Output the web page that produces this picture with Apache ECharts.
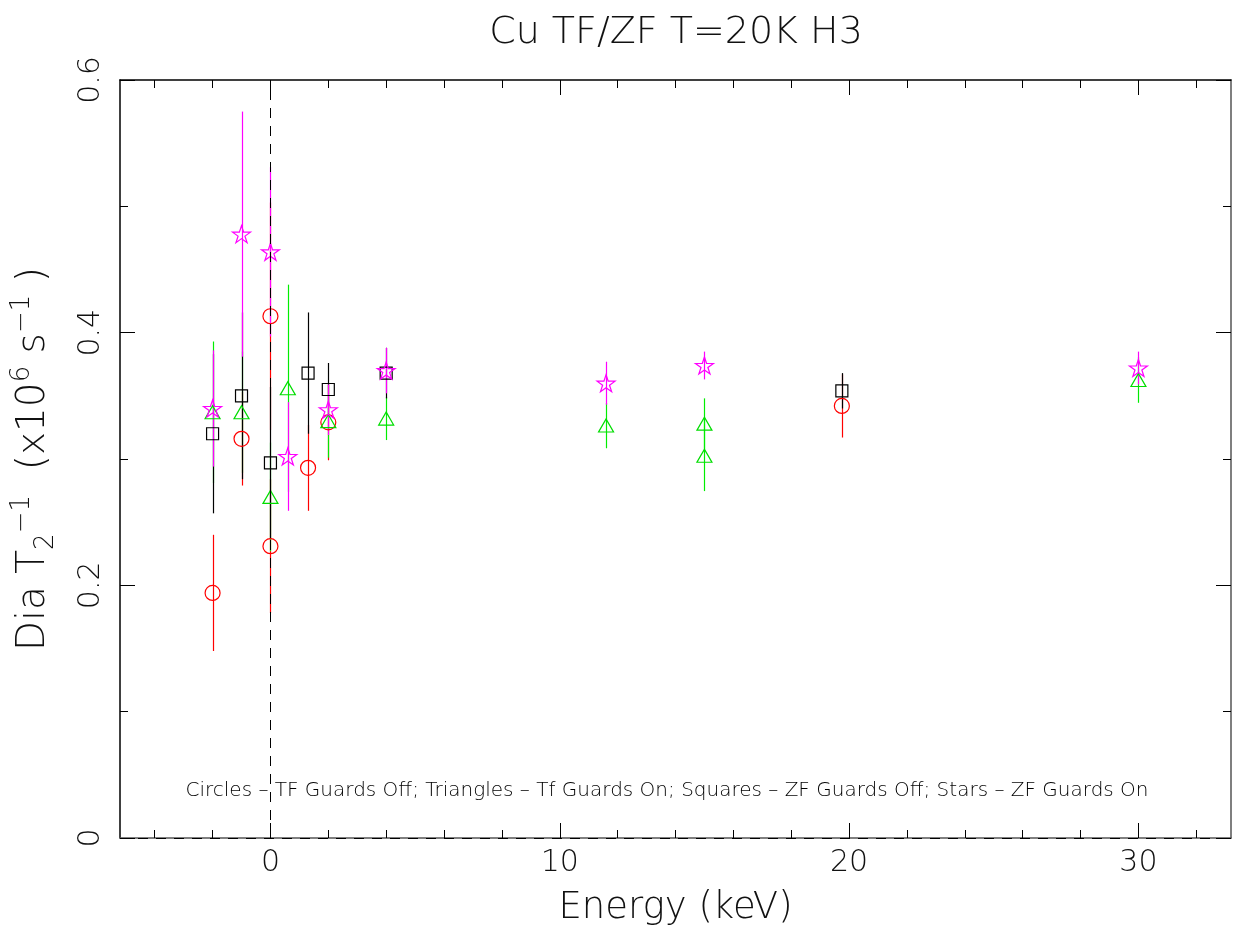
<!DOCTYPE html>
<html><head><meta charset="utf-8">
<script src="https://cdn.jsdelivr.net/npm/echarts@6/dist/echarts.min.js"></script>
<style>html,body{margin:0;padding:0;background:#fff}#c{width:1237px;height:929px}</style>
</head><body><div id="c"></div>
<script>
// ---- data ----
const circlesX   = [-2, -1, 0, 0, 1.3, 2, 19.75];
const circlesY   = [0.194, 0.316, 0.413, 0.231, 0.293, 0.329, 0.342];
const circlesErr = [0.046, 0.037, 0.09, 0.053, 0.034, 0.03, 0.025];

const trianglesX   = [-2, -1, 0, 0.6, 2, 4, 11.6, 15, 15, 30];
const trianglesY   = [0.337, 0.337, 0.270, 0.356, 0.330, 0.332, 0.3265, 0.328, 0.3026, 0.3625];
const trianglesErr = [0.056, 0.048, 0.043, 0.082, 0.029, 0.017, 0.018, 0.02, 0.028, 0.018];

const squaresX   = [-2, -1, 0, 1.3, 2, 4, 19.75];
const squaresY   = [0.320, 0.350, 0.297, 0.368, 0.355, 0.368, 0.354];
const squaresErr = [0.063, 0.066, 0.06, 0.048, 0.021, 0.02, 0.014];

const starsX   = [-2, -1, 0, 0.6, 2, 4, 11.6, 15, 30];
const starsY   = [0.340, 0.478, 0.464, 0.302, 0.339, 0.370, 0.360, 0.374, 0.372];
const starsErr = [0.046, 0.097, 0.067, 0.043, 0.02, 0.018, 0.017, 0.011, 0.013];

const xMajorTicks = [0, 10, 20, 30];
const xMinorTicks = [-4, -2, 2, 4, 6, 8, 12, 14, 16, 18, 22, 24, 26, 28, 32];
const xMin = -5.2, xMax = 33.2;
const yMin = 0, yMax = 0.6, yStep = 0.2;

const titleText = 'Cu TF/ZF T=20K H3';
const noteText = 'Circles \u2013 TF Guards Off; Triangles \u2013 Tf Guards On; Squares \u2013 ZF Guards Off; Stars \u2013 ZF Guards On';
const xName = 'Energy (keV)';
const yName = 'Dia T{sub|2}{sup|\u22121}  (x10{sup|6} s{sup|\u22121} )';

// ---- chart ----
const FONT = 'DejaVu Sans';
const W = 'lighter';
const STAR = 'path://M50 0 L61.23 34.55 L97.55 34.55 L68.17 55.9 L79.39 90.45 L50 69.1 L20.61 90.45 L31.83 55.9 L2.45 34.55 L38.77 34.55 Z';

function pts(xs, ys) { return xs.map((x, i) => [x, ys[i]]); }
function bars(xs, ys, es) { return xs.map((x, i) => [x, ys[i] - es[i], ys[i] + es[i]]); }

function errSeries(data, color) {
  return {
    type: 'custom', xAxisIndex: 0, yAxisIndex: 0, silent: true, clip: false,
    data: data, encode: { x: 0, y: [1, 2] },
    renderItem: function (params, api) {
      const x = api.value(0), lo = api.value(1), hi = api.value(2);
      const p1 = api.coord([x, lo]), p2 = api.coord([x, hi]);
      const px = Math.round(p1[0]) + 0.5;
      return { type: 'line', shape: { x1: px, y1: p1[1], x2: px, y2: p2[1] },
               style: { stroke: color, lineWidth: 1.2 } };
    }
  };
}
function markSeries(data, symbol, size, color) {
  return {
    type: 'scatter', xAxisIndex: 0, yAxisIndex: 0, silent: true,
    symbol: symbol, symbolSize: size, symbolKeepAspect: false,
    data: data,
    itemStyle: { color: 'rgba(0,0,0,0)', borderColor: color, borderWidth: 1.2, opacity: 1 },
    emphasis: { disabled: true }
  };
}

const tickStyle = { color: '#000', width: 1 };
const chart = echarts.init(document.getElementById('c'), null, { renderer: 'canvas' });
chart.setOption({
  backgroundColor: '#fff',
  animation: false,
  graphic: [
    { type: 'text', x: 676, y: 14,
      style: { text: titleText, font: W + ' 38px "' + FONT + '"', fill: '#111', textAlign: 'center' } },
    { type: 'text', x: 667, y: 781,
      style: { text: noteText, font: W + ' 20px "' + FONT + '"', fill: '#000', textAlign: 'center' } }
  ],
  grid: { left: 120, right: 6, top: 80, bottom: 91, containLabel: false, outerBoundsMode: 'none' },
  xAxis: [
    { type: 'value', min: xMin, max: xMax, position: 'bottom',
      axisLine: { show: true, onZero: false, lineStyle: { color: '#555', width: 1.5 } },
      axisTick: { show: true, inside: true, length: 15, customValues: xMajorTicks, lineStyle: tickStyle },
      axisLabel: { show: true, customValues: xMajorTicks, margin: 10, fontFamily: FONT, fontWeight: W, fontSize: 30, color: '#111',
                   formatter: v => String(v) },
      splitLine: { show: false },
      name: xName, nameLocation: 'middle', nameGap: 52,
      nameTextStyle: { fontFamily: FONT, fontWeight: W, fontSize: 37, color: '#111' } },
    { type: 'value', min: xMin, max: xMax, position: 'bottom',
      axisLine: { show: false, onZero: false },
      axisTick: { show: true, inside: true, length: 8, customValues: xMinorTicks, lineStyle: tickStyle },
      axisLabel: { show: false }, splitLine: { show: false } },
    { type: 'value', min: xMin, max: xMax, position: 'top',
      axisLine: { show: true, onZero: false, lineStyle: { color: '#000', width: 1.5 } },
      axisTick: { show: true, inside: true, length: 15, customValues: xMajorTicks, lineStyle: tickStyle },
      axisLabel: { show: false }, splitLine: { show: false } },
    { type: 'value', min: xMin, max: xMax, position: 'top',
      axisLine: { show: false, onZero: false },
      axisTick: { show: true, inside: true, length: 8, customValues: xMinorTicks, lineStyle: tickStyle },
      axisLabel: { show: false }, splitLine: { show: false } }
  ],
  yAxis: [
    { type: 'value', min: yMin, max: yMax, interval: yStep, position: 'left',
      axisLine: { show: true, onZero: false, lineStyle: { color: '#000', width: 1.5 } },
      axisTick: { show: true, inside: true, length: 15, lineStyle: tickStyle },
      minorTick: { show: true, splitNumber: 2, length: 8, lineStyle: tickStyle },
      axisLabel: { show: true, rotate: 90, margin: 14, fontFamily: FONT, fontWeight: W, fontSize: 30, color: '#111',
                   formatter: v => (v === 0 ? '0' : v.toFixed(1)) },
      splitLine: { show: false },
      name: yName, nameLocation: 'middle', nameGap: 61,
      nameTextStyle: { fontFamily: FONT, fontWeight: W, fontSize: 39, color: '#111', lineHeight: 50,
        rich: { sub: { fontSize: 26, lineHeight: 26, verticalAlign: 'bottom', fontFamily: FONT, fontWeight: W, color: '#111' },
                sup: { fontSize: 26, lineHeight: 26, verticalAlign: 'top', fontFamily: FONT, fontWeight: W, color: '#111' } } } },
    { type: 'value', min: yMin, max: yMax, interval: yStep, position: 'right',
      axisLine: { show: true, onZero: false, lineStyle: { color: '#555', width: 1.5 } },
      axisTick: { show: true, inside: true, length: 15, lineStyle: tickStyle },
      minorTick: { show: true, splitNumber: 2, length: 8, lineStyle: tickStyle },
      axisLabel: { show: false }, splitLine: { show: false } }
  ],
  series: [
    Object.assign(errSeries([[0, yMin, yMax]], 'rgba(0,0,0,0)'), {
      markLine: { silent: true, symbol: 'none', label: { show: false },
        lineStyle: { color: '#000', type: [10, 8], width: 1 },
        data: [{ xAxis: 0 }, { yAxis: 0 }] }
    }),
    errSeries(bars(circlesX, circlesY, circlesErr), '#ff0000'),
    errSeries(bars(trianglesX, trianglesY, trianglesErr), '#00ee00'),
    errSeries(bars(squaresX, squaresY, squaresErr), '#000000'),
    errSeries(bars(starsX, starsY, starsErr), '#ff00ff'),
    markSeries(pts(circlesX, circlesY), 'circle', 15, '#ff0000'),
    markSeries(pts(trianglesX, trianglesY), 'triangle', [15, 13], '#00dd00'),
    markSeries(pts(squaresX, squaresY), 'rect', 12, '#000000'),
    markSeries(pts(starsX, starsY), STAR, [18, 17], '#ff00ff')
  ]
});
</script></body></html>
